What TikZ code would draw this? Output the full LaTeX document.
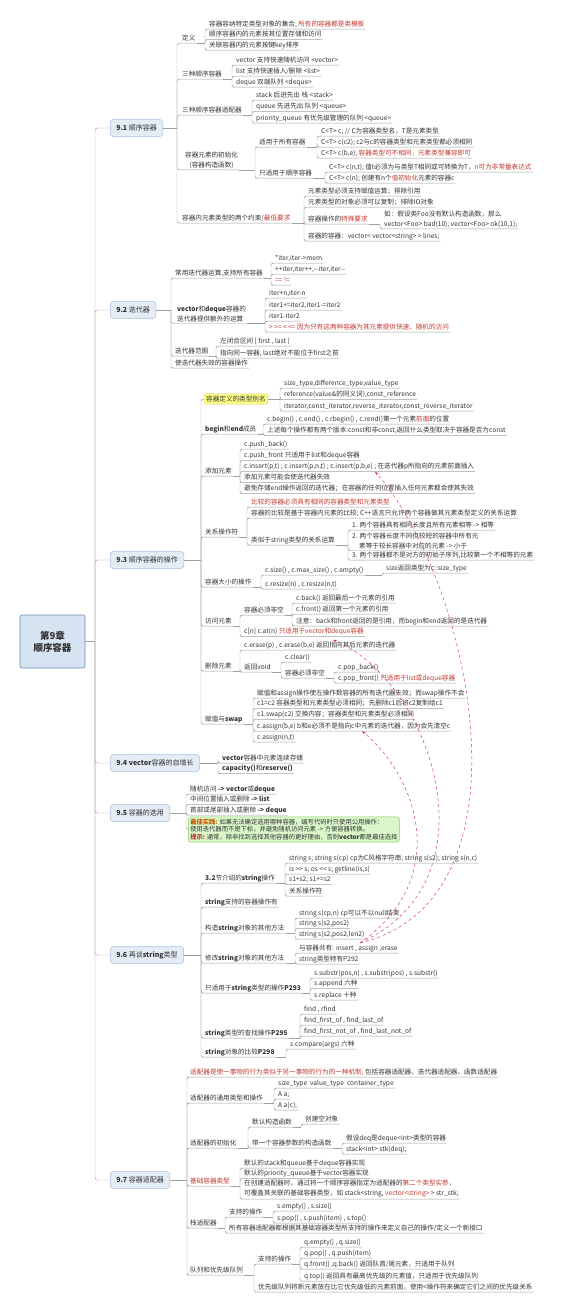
\documentclass[tikz,border=0pt]{standalone}
\usepackage{fontspec}
\setmainfont{Noto Sans CJK SC}
\usetikzlibrary{arrows.meta}
\definecolor{tx}{HTML}{333333}
\definecolor{rd}{HTML}{BF3A30}
\definecolor{lnc}{HTML}{A0A0A0}
\definecolor{secf}{HTML}{E4ECF6}
\definecolor{secb}{HTML}{A9BED8}
\definecolor{rootf}{HTML}{D6E3F1}
\definecolor{rootb}{HTML}{6E8FB8}
\definecolor{yel}{HTML}{FFFF88}
\definecolor{yelb}{HTML}{D8D060}
\definecolor{grf}{HTML}{D9F7C9}
\definecolor{grb}{HTML}{8ACB6E}
\definecolor{arc}{HTML}{D64068}
\definecolor{org}{HTML}{C05A00}
\newcommand\R[1]{\textcolor{rd}{#1}}
\newcommand\grp[3]{%
  \draw[con] (#1) -- (#2,0 |- #1);
  \foreach \c in {#3}{\draw[con] (#2,0 |- #1) |- (\c.south west) -- (\c.south east);}%
}
\begin{document}
\begin{tikzpicture}[x=1pt,y=-1pt,
  every node/.style={text=tx},
  font=\fontsize{6.6}{10}\selectfont,
  tb/.style={anchor=west, inner xsep=1pt, inner ysep=1.2pt},
  t/.style={tb, text height=5.8pt, text depth=1.6pt},
  ml/.style={tb, align=left},
  con/.style={draw=lnc, line width=0.45pt, rounded corners=2.5pt},
  sec/.style={anchor=west, draw=secb, fill=secf, rounded corners=3pt, minimum height=17pt, inner xsep=6pt, line width=0.5pt, font=\fontsize{7}{9}\selectfont},
  arr/.style={draw=arc, dashed, line width=0.5pt, -{Stealth[length=4pt,width=3pt]}}]
\useasboundingbox (0,0) rectangle (560,1310);
\fill[white] (0,0) rectangle (560,1310);

% root and sections
\node[draw=rootb, fill=rootf, rounded corners=2pt, minimum width=65pt, minimum height=53pt, align=center, line width=0.6pt, font=\fontsize{9.5}{12}\selectfont\bfseries] (root) at (52.5,641.5) {第9章\\顺序容器};
\node[sec] (s1) at (110,128) {\textbf{9.1} 顺序容器};
\node[sec] (s2) at (110,310) {\textbf{9.2} 迭代器};
\node[sec] (s3) at (110,560) {\textbf{9.3} 顺序容器的操作};
\node[sec] (s4) at (110,763) {\textbf{9.4 vector}容器的自增长};
\node[sec] (s5) at (110,813) {\textbf{9.5} 容器的选用};
\node[sec] (s6) at (110,955) {\textbf{9.6} 再谈\textbf{string}类型};
\node[sec] (s7) at (110,1180) {\textbf{9.7} 容器适配器};
\draw[con] (root.east) -- (95,0 |- root.east);
\foreach \s in {s1,s2,s3,s4,s5,s6,s7}{\draw[con] (95,0 |- root.east) |- (\s.west);}

% ---------- 9.1
\node[t] (a1) at (181,38) {定义};
\node[t] (a11) at (208,24) {容器容纳特定类型对象的集合; \R{所有的容器都是类模板}};
\node[t] (a12) at (208,34.5) {顺序容器内的元素按其位置存储和访问};
\node[t] (a13) at (208,45) {关联容器内的元素按键key排序};
\grp{a1.south east}{205}{a11,a12,a13}
\node[t] (a2) at (181,74) {三种顺序容器};
\node[t] (a21) at (235,60) {vector 支持快速随机访问 <vector>};
\node[t] (a22) at (235,71) {list 支持快速插入/删除 <list>};
\node[t] (a23) at (235,82) {deque 双端队列 <deque>};
\grp{a2.south east}{232}{a21,a22,a23}
\node[t] (a3) at (181,110) {三种顺序容器适配器};
\node[t] (a31) at (255,95) {stack 后进先出 栈 <stack>};
\node[t] (a32) at (255,106.5) {queue 先进先出 队列 <queue>};
\node[t] (a33) at (255,118) {priority\_queue 有优先级管理的队列 <queue>};
\grp{a3.south east}{252}{a31,a32,a33}
\node[tb, align=center] (a4) at (184,160) {容器元素的初始化\\(容器构造函数)};
\node[t] (a41) at (258,142) {适用于所有容器};
\node[t] (a42) at (258,173) {只适用于顺序容器};
\grp{a4.south east}{255}{a41,a42}
\node[t] (a411) at (320,131) {C<T> c; // C为容器类型名，T是元素类型};
\node[t] (a412) at (320,142) {C<T> c(c2); c2与c的容器类型和元素类型都必须相同};
\node[t] (a413) at (320,153) {C<T> c(b,e); \R{容器类型可不相同，元素类型兼容即可}};
\grp{a41.south east}{317}{a411,a412,a413}
\node[t] (a421) at (328,167) {C<T> c(n,t); 值t必须为与类型T相同或可转换为T，\R{n可为非常量表达式}};
\node[t] (a422) at (328,178) {C<T> c(n); 创建有n个\R{值初始化}元素的容器c};
\grp{a42.south east}{325}{a421,a422}
\node[t] (a5) at (181,218) {容器内元素类型的两个约束/\R{最低要求}};
\node[t] (a51) at (307,191) {元素类型必须支持赋值运算；排除引用};
\node[t] (a52) at (307,202) {元素类型的对象必须可以复制；排除IO对象};
\node[t] (a53) at (307,219) {容器操作的\R{特殊要求}};
\node[t] (a54) at (307,236) {容器的容器：vector< vector<string> > lines;};
\grp{a5.south east}{304}{a51,a52,a53,a54}
\node[ml] (a531) at (383,219) {如：假设类Foo没有默认构造函数，那么\\vector<Foo> bad(10); vector<Foo> ok(10,1);};
\grp{a53.south east}{380}{a531}
\grp{s1.east}{177}{a1,a2,a3,a4,a5}

% ---------- 9.2
\node[t] (b1) at (174,273) {常用迭代器运算,支持所有容器};
\node[t] (b11) at (274,258) {*iter,iter->mem};
\node[t] (b12) at (274,269) {++iter,iter++,-{}-iter,iter-{}-};
\node[t] (b13) at (274,280) {\R{== !=}};
\grp{b1.south east}{271}{b11,b12,b13}
\node[ml] (b2) at (176,314) {\textbf{vector}和\textbf{deque}容器的\\迭代器提供额外的运算};
\node[t] (b21) at (268,293) {iter+n,iter-n};
\node[t] (b22) at (268,305) {iter1+=iter2,iter1-=iter2};
\node[t] (b23) at (268,316) {iter1-iter2};
\node[t] (b24) at (268,327) {\R{> >= < <= 因为只有这两种容器为其元素提供快速、随机的访问}};
\grp{b2.south east}{265}{b21,b22,b23,b24}
\node[t] (b3) at (174,351) {迭代器范围};
\node[t] (b31) at (219,341) {左闭合区间 [ first , last )};
\node[t] (b32) at (219,353) {指向同一容器; last绝对不能位于first之前};
\grp{b3.south east}{216}{b31,b32}
\node[t] (b4) at (174,363) {使迭代器失效的容器操作};
\grp{s2.east}{171}{b1,b2,b3,b4}

% ---------- 9.3
\node[anchor=west, fill=yel, draw=yelb, rounded corners=2pt, inner sep=2pt, line width=0.4pt] (c1) at (204,399) {容器定义的类型别名};
\node[t] (c11) at (283,383) {size\_type,difference\_type,value\_type};
\node[t] (c12) at (283,394.5) {reference(value\&的同义词),const\_reference};
\node[t] (c13) at (283,406) {iterator,const\_iterator,reverse\_iterator,const\_reverse\_iterator};
\grp{c1.east}{280}{c11,c12,c13}
\node[t] (c2) at (204,429) {\textbf{begin}和\textbf{end}成员};
\node[t] (c21) at (266,419) {c.begin() , c.end() , c.rbegin() , c.rend()第一个元素\R{前面}的位置};
\node[t] (c22) at (266,430.5) {上述每个操作都有两个版本:const和非const,返回什么类型取决于容器是否为const};
\grp{c2.south east}{263}{c21,c22}
\node[t] (c3) at (204,471) {添加元素};
\node[t] (c31) at (243,444) {c.push\_back()};
\node[t] (c32) at (243,455.5) {c.push\_front 只适用于list和deque容器};
\node[t] (c33) at (243,466.5) {c.insert(p,t) ; c.insert(p,n,t) ; c.insert(p,b,e) ; 在迭代器p所指向的元素前面插入};
\node[t] (c34) at (243,477.5) {添加元素可能会使迭代器失效};
\node[t] (c35) at (243,488.5) {避免存储end操作返回的迭代器；在容器的任何位置插入任何元素都会使其失效};
\grp{c3.south east}{240}{c31,c32,c33,c34,c35}
\node[t] (c4) at (204,532) {关系操作符};
\node[t] (c41) at (250,502) {\R{比较的容器必须具有相同的容器类型和元素类型}};
\node[t] (c42) at (250,513) {容器的比较是基于容器内元素的比较; C++语言只允许两个容器做其元素类型定义的关系运算};
\node[t] (c43) at (250,540) {类似于string类型的关系运算};
\grp{c4.south east}{247}{c41,c42,c43}
\node[t] (c431) at (351,525) {1. 两个容器具有相同长度且所有元素相等 -> 相等};
\node[ml] (c432) at (351,541) {2. 两个容器长度不同但较短的容器中所有元\\\hspace*{7pt}素等于较长容器中对应的元素 -> 小于};
\node[t] (c433) at (351,555) {3. 两个容器都不是对方的初始子序列,比较第一个不相等的元素};
\grp{c43.south east}{348}{c431,c432,c433}
\node[t] (c5) at (204,582) {容器大小的操作};
\node[t] (c51) at (264,570) {c.size() , c.max\_size() , c.empty()};
\node[t] (c52) at (264,584) {c.resize(n) , c.resize(n,t)};
\grp{c5.south east}{261}{c51,c52}
\node[t] (c511) at (385,568) {size返回类型为c::size\_type};
\grp{c51.south east}{382}{c511}
\node[t] (c6) at (204,621) {访问元素};
\node[t] (c61) at (243,610) {容器必须非空};
\node[t] (c62) at (243,631.5) {c[n] c.at(n) \R{只适用于vector和deque容器}};
\grp{c6.south east}{240}{c61,c62}
\node[t] (c611) at (295,598) {c.back() 返回最后一个元素的引用};
\node[t] (c612) at (295,609) {c.front() 返回第一个元素的引用};
\node[t] (c613) at (295,621) {注意：back和front返回的是引用，而begin和end返回的是迭代器};
\grp{c61.south east}{292}{c611,c612,c613}
\node[t] (c7) at (204,666) {删除元素};
\node[t] (c71) at (243,645) {c.erase(p) , c.erase(b,e) 返回指向其后元素的迭代器};
\node[t] (c72) at (243,667) {返回void};
\grp{c7.south east}{240}{c71,c72}
\node[t] (c721) at (284,657) {c.clear()};
\node[t] (c722) at (284,673) {容器必须非空};
\grp{c72.south east}{281}{c721,c722}
\node[t] (c7221) at (337,667) {c.pop\_back()};
\node[t] (c7222) at (337,678) {c.pop\_front() \R{只适用于list或deque容器}};
\grp{c722.south east}{334}{c7221,c7222}
\node[t] (c8) at (204,719) {赋值与\textbf{swap}};
\node[t] (c81) at (256,693) {赋值和assign操作使左操作数容器的所有迭代器失效；而swap操作不会};
\node[t] (c82) at (256,703.5) {c1=c2 容器类型和元素类型必须相同；先删除c1后将c2复制给c1};
\node[t] (c83) at (256,714.5) {c1.swap(c2) 交换内容；容器类型和元素类型必须相同};
\node[t] (c84) at (256,726) {c.assign(b,e) b和e必须不是指向c中元素的迭代器，因为会先清空c};
\node[t] (c85) at (256,737) {c.assign(n,t)};
\grp{c8.south east}{253}{c81,c82,c83,c84,c85}
\grp{s3.east}{201}{c2,c3,c4,c5,c6,c7,c8}
\draw[con] (201,0 |- s3.east) |- (c1.west);

% ---------- 9.4
\node[t] (d1) at (221,758) {\textbf{vector}容器中元素连续存储};
\node[t] (d2) at (221,768.5) {\textbf{capacity()}和\textbf{reserve()}};
\grp{s4.east}{218}{d1,d2}

% ---------- 9.5
\node[t] (e1) at (189,789) {随机访问 \textbf{-> vector}或\textbf{deque}};
\node[t] (e2) at (189,799.5) {中间位置插入或删除 \textbf{-> list}};
\node[t] (e3) at (189,810) {首部或尾部插入或删除 \textbf{-> deque}};
\node[anchor=north west, fill=grf, draw=grb, rounded corners=3pt, inner sep=2pt, align=left, line width=0.5pt, font=\fontsize{6.3}{7.6}\selectfont] (e4) at (188,816.5) {\textcolor{org}{\textbf{最佳实践:}} 如果无法确定选用哪种容器，编写代码时只使用公用操作：\\使用迭代器而不是下标，并避免随机访问元素 -> 方便容器转换。\\\R{\textbf{提示:}} 通常，除非找到选择其他容器的更好理由，否则\textbf{vector}都是最佳选择};
\grp{s5.east}{186}{e1,e2,e3}
\draw[con] (186,0 |- s5.east) |- (e4.west);

% ---------- 9.6
\node[t] (g1) at (204,878) {\textbf{3.2}节介绍的\textbf{string}操作};
\node[t] (g11) at (288,858) {string s; string s(cp) cp为C风格字符串; string s(s2); string s(n,c)};
\node[t] (g12) at (288,869) {is >{}> s; os <{}< s; getline(is,s)};
\node[t] (g13) at (288,879.5) {s1+s2; s1+=s2};
\node[t] (g14) at (288,891) {关系操作符};
\grp{g1.south east}{285}{g11,g12,g13,g14}
\node[t] (g2) at (204,902) {\textbf{string}支持的容器操作有};
\node[t] (g3) at (204,928) {构造\textbf{string}对象的其他方法};
\node[t] (g31) at (298,913) {string s(cp,n) cp可以不以null结束};
\node[t] (g32) at (298,923.5) {string s(s2,pos2)};
\node[t] (g33) at (298,934) {string s(s2,pos2,len2)};
\grp{g3.south east}{295}{g31,g32,g33}
\node[t] (g4) at (204,958) {修改\textbf{string}对象的其他方法};
\node[t] (g41) at (298,948) {与容器共有: insert , assign ,erase};
\node[t] (g42) at (298,959) {string类型特有P292};
\grp{g4.south east}{295}{g41,g42}
\node[t] (g5) at (204,988) {只适用于\textbf{string}类型的操作\textbf{P293}};
\node[t] (g51) at (313,973) {s.substr(pos,n) , s.substr(pos) , s.substr()};
\node[t] (g52) at (313,983.5) {s.append 六种};
\node[t] (g53) at (313,995) {s.replace 十种};
\grp{g5.south east}{310}{g51,g52,g53}
\node[t] (g6) at (204,1033) {\textbf{string}类型的查找操作\textbf{P295}};
\node[t] (g61) at (303,1009) {find , rfind};
\node[t] (g62) at (303,1020) {find\_first\_of , find\_last\_of};
\node[t] (g63) at (303,1031) {find\_first\_not\_of , find\_last\_not\_of};
\grp{g6.south east}{300}{g61,g62,g63}
\node[t] (g7) at (204,1052) {\textbf{string}对象的比较\textbf{P298}};
\node[t] (g71) at (289,1044) {s.compare(args) 六种};
\grp{g7.south east}{286}{g71}
\grp{s6.east}{201}{g1,g2,g3,g4,g5,g6,g7}

% ---------- 9.7
\node[t] (h1) at (189,1072) {\R{适配器是使一事物的行为类似于另一事物的行为的一种机制;} 包括容器适配器、迭代器适配器、函数适配器};
\node[t] (h2) at (189,1098) {适配器的通用类型和操作};
\node[t] (h21) at (277,1083) {size\_type\ \ value\_type\ \ container\_type};
\node[t] (h22) at (277,1094) {A a;};
\node[t] (h23) at (277,1105) {A a(c);};
\grp{h2.south east}{274}{h21,h22,h23}
\node[t] (h3) at (189,1143) {适配器的初始化};
\node[t] (h31) at (251,1122) {默认构造函数};
\node[t] (h32) at (251,1143) {带一个容器参数的构造函数};
\grp{h3.south east}{248}{h31,h32}
\node[t] (h311) at (304,1119) {创建空对象};
\grp{h31.south east}{301}{h311}
\node[t] (h321) at (345,1138) {假设deq是deque<int>类型的容器};
\node[t] (h322) at (345,1149) {stack<int> stk(deq);};
\grp{h32.south east}{342}{h321,h322}
\node[t] (h4) at (189,1181) {\R{基础容器类型}};
\node[t] (h41) at (243,1163) {默认的stack和queue基于deque容器实现};
\node[t] (h42) at (243,1173.5) {默认的priority\_queue基于vector容器实现};
\node[ml] (h43) at (243,1189) {在创建适配器时，通过将一个顺序容器指定为适配器的\R{第二个类型实参}，\\可覆盖其关联的基础容器类型，如 stack<string, \R{vector<string>} > str\_stk;};
\grp{h4.south east}{240}{h41,h42,h43}
\node[t] (h5) at (189,1223) {栈适配器};
\node[t] (h51) at (228,1212) {支持的操作};
\node[t] (h52) at (228,1228) {所有容器适配器都根据其基础容器类型所支持的操作来定义自己的操作/定义一个新接口};
\grp{h5.south east}{225}{h51,h52}
\node[t] (h511) at (276,1206) {s.empty() , s.size()};
\node[t] (h512) at (276,1218) {s.pop() , s.push(item) , s.top()};
\grp{h51.south east}{273}{h511,h512}
\node[t] (h6) at (189,1270) {队列和优先级队列};
\node[t] (h61) at (257,1259) {支持的操作};
\node[t] (h62) at (257,1287) {优先级队列将新元素放在比它优先级低的元素前面，使用<操作符来确定它们之间的优先级关系};
\grp{h6.south east}{254}{h61,h62}
\node[t] (h611) at (303,1242) {q.empty() , q.size()};
\node[t] (h612) at (303,1253) {q.pop() , q.push(item)};
\node[t] (h613) at (303,1264) {q.front() ,q.back() 返回队首/尾元素，只适用于队列};
\node[t] (h614) at (303,1276) {q.top() 返回具有最高优先级的元素值，只适用于优先级队列};
\grp{h61.south east}{300}{h611,h612,h613,h614}
\grp{s7.east}{187}{h1,h2,h3,h4,h5,h6}

% ---------- cross links
\coordinate (src) at (360,0 |- g41.north);
\coordinate (tI) at (375,0 |- c33.south);
\coordinate (tE) at (333,0 |- c71.north);
\coordinate (tA) at (362,0 |- c84.south);
\draw[arr] (src) .. controls (540,900) and (470,580) .. (tI);
\draw[arr] (src) .. controls (500,880) and (430,680) .. (tE);
\draw[arr] (src) .. controls (450,880) and (420,780) .. (tA);
\end{tikzpicture}
\end{document}
